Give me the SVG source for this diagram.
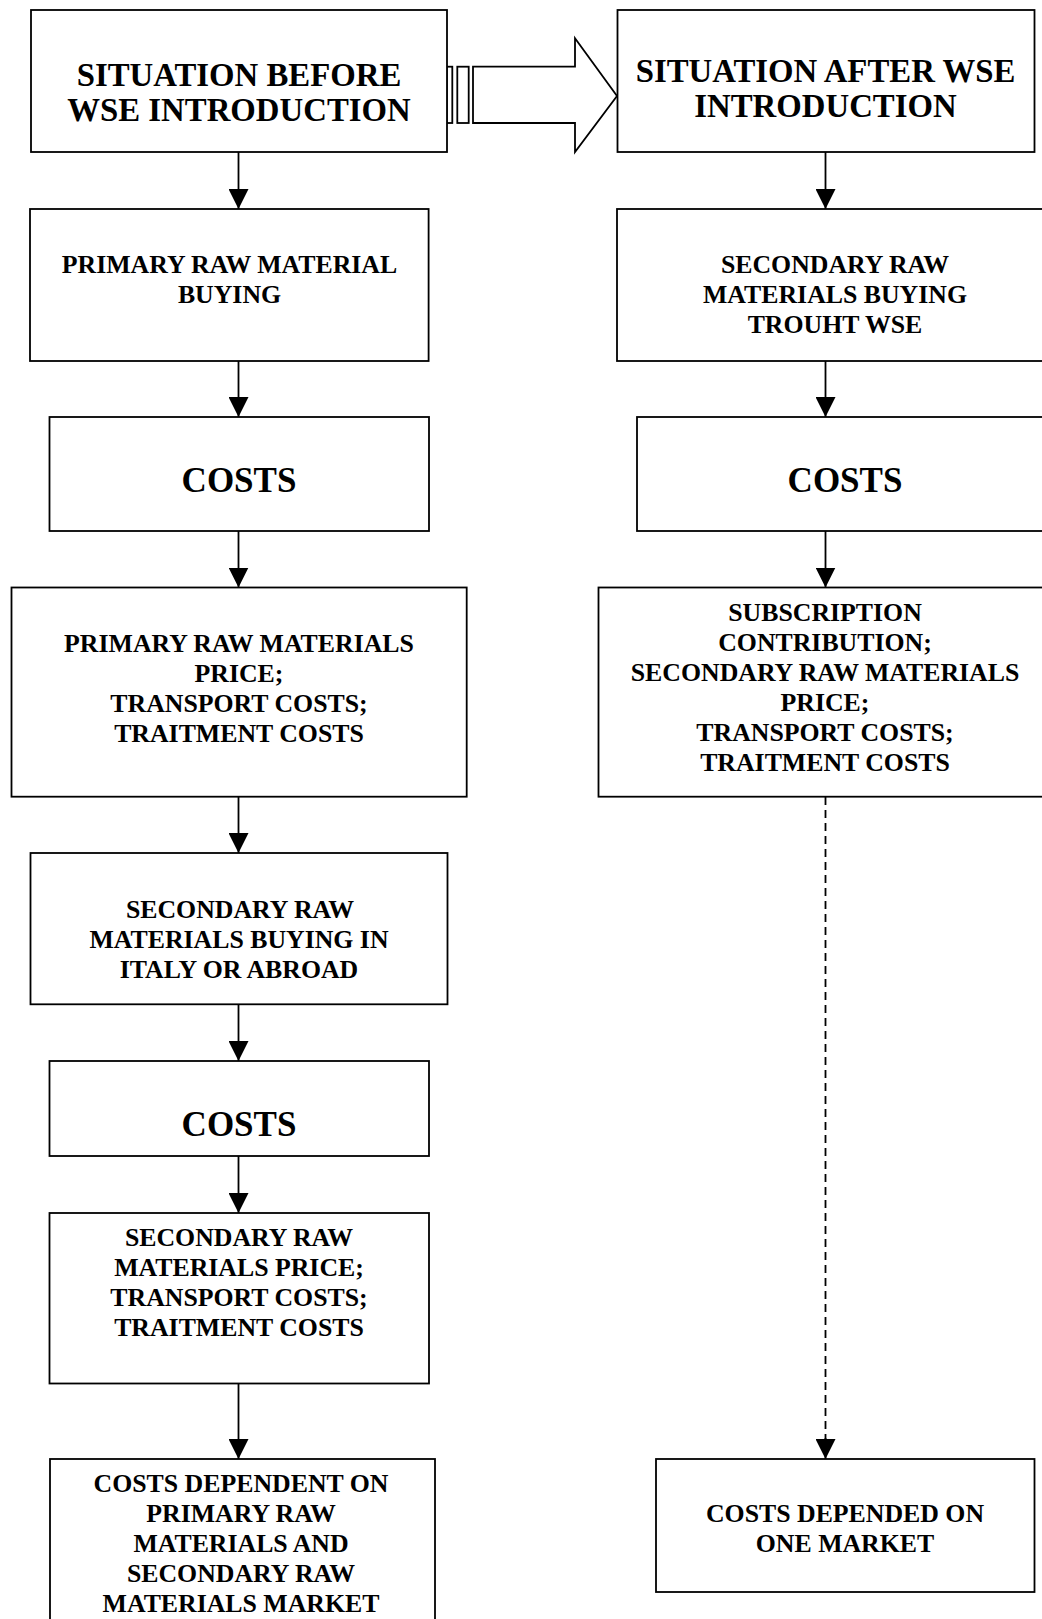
<svg xmlns="http://www.w3.org/2000/svg" width="1042" height="1619" viewBox="0 0 1042 1619">
<style>
.box{fill:#fff;stroke:#000;stroke-width:1.8}
.t{font-family:"Liberation Serif","Times New Roman",serif;font-weight:bold;font-size:25.8px;text-anchor:middle;fill:#000}
.title{font-size:32.8px}
.big{font-size:35px}
.c{stroke:#000;stroke-width:1.8;fill:none}
.dash{stroke-dasharray:8 5}
</style>
<defs>
<marker id="ah" markerUnits="userSpaceOnUse" viewBox="0 0 20 20" refX="20" refY="10" markerWidth="20" markerHeight="20" orient="auto">
<path d="M0,0 L20,10 L0,20 z" fill="#000"/>
</marker>
</defs>
<rect width="1042" height="1619" fill="#fff"/>
<g id="connectors">
<line class="c" x1="238.5" y1="152" x2="238.5" y2="209" marker-end="url(#ah)"/>
<line class="c" x1="238.5" y1="361" x2="238.5" y2="417" marker-end="url(#ah)"/>
<line class="c" x1="238.5" y1="531" x2="238.5" y2="587.5" marker-end="url(#ah)"/>
<line class="c" x1="238.5" y1="797" x2="238.5" y2="853" marker-end="url(#ah)"/>
<line class="c" x1="238.5" y1="1004" x2="238.5" y2="1061" marker-end="url(#ah)"/>
<line class="c" x1="238.5" y1="1156" x2="238.5" y2="1213" marker-end="url(#ah)"/>
<line class="c" x1="238.5" y1="1383.5" x2="238.5" y2="1459" marker-end="url(#ah)"/>
<line class="c" x1="825.5" y1="152" x2="825.5" y2="209" marker-end="url(#ah)"/>
<line class="c" x1="825.5" y1="361" x2="825.5" y2="417" marker-end="url(#ah)"/>
<line class="c" x1="825.5" y1="531" x2="825.5" y2="587.5" marker-end="url(#ah)"/>
<line class="c dash" x1="825.5" y1="797" x2="825.5" y2="1440"/>
<line class="c" x1="825.5" y1="1438" x2="825.5" y2="1459" marker-end="url(#ah)"/>
<g id="bigarrow">
<polygon class="c" points="473,66.7 575,66.7 575,38.3 617,96 575,152 575,123 473,123" fill="#fff"/>
<rect class="c" x="446.7" y="66.7" width="5.6" height="56.3"/>
<rect class="c" x="457.3" y="66.7" width="11.4" height="56.3"/>
</g>
</g>
<g id="n1"><rect class="box" x="31" y="10" width="416" height="142"/>
<text class="t title" x="239" y="85.7">SITUATION BEFORE</text><text class="t title" x="239" y="121">WSE INTRODUCTION</text></g>
<g id="n2"><rect class="box" x="617.5" y="10" width="417" height="142"/>
<text class="t title" x="825.5" y="81.6">SITUATION AFTER WSE</text><text class="t title" x="825.5" y="116.7">INTRODUCTION</text></g>
<g id="n3"><rect class="box" x="30" y="209" width="398.6" height="152"/>
<text class="t" x="229.5" y="272.6">PRIMARY RAW MATERIAL</text><text class="t" x="229.5" y="302.6">BUYING</text></g>
<g id="n4"><rect class="box" x="617" y="209" width="440" height="152"/>
<text class="t" x="835" y="273">SECONDARY RAW</text><text class="t" x="835" y="303">MATERIALS BUYING</text><text class="t" x="835" y="333">TROUHT WSE</text></g>
<g id="n5"><rect class="box" x="49.5" y="417" width="379.5" height="114"/>
<text class="t big" x="239" y="492">COSTS</text></g>
<g id="n6"><rect class="box" x="637" y="417" width="420" height="114"/>
<text class="t big" x="845" y="492">COSTS</text></g>
<g id="n7"><rect class="box" x="11.5" y="587.5" width="455.2" height="209.2"/>
<text class="t" x="239" y="652">PRIMARY RAW MATERIALS</text><text class="t" x="239" y="682">PRICE;</text><text class="t" x="239" y="712">TRANSPORT COSTS;</text><text class="t" x="239" y="742">TRAITMENT COSTS</text></g>
<g id="n8"><rect class="box" x="598.5" y="587.5" width="460" height="209.2"/>
<text class="t" x="825" y="621">SUBSCRIPTION</text><text class="t" x="825" y="651">CONTRIBUTION;</text><text class="t" x="825" y="681">SECONDARY RAW MATERIALS</text><text class="t" x="825" y="711">PRICE;</text><text class="t" x="825" y="741">TRANSPORT COSTS;</text><text class="t" x="825" y="771">TRAITMENT COSTS</text></g>
<g id="n9"><rect class="box" x="30.5" y="853" width="417" height="151.3"/>
<text class="t" x="240" y="917.5">SECONDARY RAW</text><text class="t" x="239" y="947.5">MATERIALS BUYING IN</text><text class="t" x="239" y="977.5">ITALY OR ABROAD</text></g>
<g id="n10"><rect class="box" x="49.5" y="1061" width="379.5" height="95"/>
<text class="t big" x="239" y="1136">COSTS</text></g>
<g id="n11"><rect class="box" x="49.5" y="1213" width="379.5" height="170.5"/>
<text class="t" x="239" y="1245.5">SECONDARY RAW</text><text class="t" x="239" y="1275.5">MATERIALS PRICE;</text><text class="t" x="239" y="1305.5">TRANSPORT COSTS;</text><text class="t" x="239" y="1335.5">TRAITMENT COSTS</text></g>
<g id="n12"><rect class="box" x="50" y="1459" width="385" height="190"/>
<text class="t" x="241" y="1491.7">COSTS DEPENDENT ON</text><text class="t" x="241" y="1521.7">PRIMARY RAW</text><text class="t" x="241" y="1551.7">MATERIALS AND</text><text class="t" x="241" y="1581.7">SECONDARY RAW</text><text class="t" x="241" y="1611.7">MATERIALS MARKET</text></g>
<g id="n13"><rect class="box" x="656" y="1459" width="378.5" height="133"/>
<text class="t" x="845" y="1521.7">COSTS DEPENDED ON</text><text class="t" x="845" y="1551.7">ONE MARKET</text></g>
</svg>
